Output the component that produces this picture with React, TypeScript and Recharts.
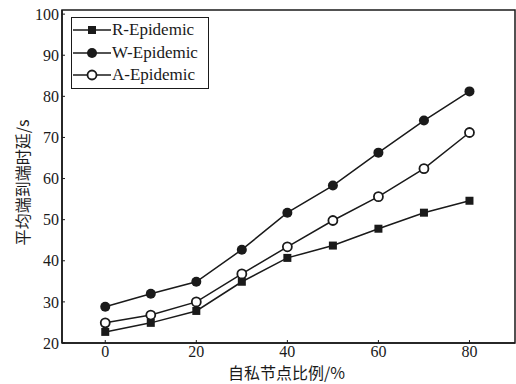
import { LineChart, Line, XAxis, YAxis, Label, ReferenceArea } from 'recharts';

const ratios = [0, 10, 20, 30, 40, 50, 60, 70, 80];
const rEpidemic = [22.7, 24.9, 27.8, 34.9, 40.7, 43.7, 47.8, 51.7, 54.6];
const wEpidemic = [28.8, 32.0, 34.9, 42.7, 51.7, 58.3, 66.3, 74.1, 81.2];
const aEpidemic = [24.9, 26.8, 30.0, 36.8, 43.4, 49.8, 55.6, 62.4, 71.2];
const xTicks = [0, 20, 40, 60, 80];
const yTicks = [20, 30, 40, 50, 60, 70, 80, 90, 100];
const xDomain = [-9.5, 90];
const yDomain = [20, 101];

const series = [
  { key: 'R', name: 'R-Epidemic', marker: 'square' },
  { key: 'W', name: 'W-Epidemic', marker: 'circle' },
  { key: 'A', name: 'A-Epidemic', marker: 'open' },
];

const data = ratios.map((x, i) => ({ x, R: rEpidemic[i], W: wEpidemic[i], A: aEpidemic[i] }));

const FONT = '"Liberation Serif", "DejaVu Serif", serif';
const CJK = '"Noto Sans CJK SC", sans-serif';
const INK = '#1a1a1a';

function Marker({ type, cx, cy }: { type: string; cx: number; cy: number }) {
  if (type === 'square') {
    return <rect x={cx - 4} y={cy - 4} width={8} height={8} fill={INK} />;
  }
  if (type === 'circle') {
    return <circle cx={cx} cy={cy} r={5} fill={INK} />;
  }
  return <circle cx={cx} cy={cy} r={4.5} fill="#fff" stroke={INK} strokeWidth={1.8} />;
}

function makeDot(type: string) {
  return (props: any) => {
    const { cx, cy, index } = props;
    if (cx == null || cy == null) return <g key={`d-${type}-${index}`} />;
    return (
      <g key={`d-${type}-${index}`}>
        <Marker type={type} cx={cx} cy={cy} />
      </g>
    );
  };
}

function LegendBox() {
  return (
    <div
      style={{
        position: 'absolute',
        left: 71,
        top: 17,
        border: `1.5px solid ${INK}`,
        background: '#fff',
        width: 138,
        padding: '1px 0',
        boxSizing: 'border-box',
      }}
    >
      {series.map(s => (
        <div key={s.key} style={{ display: 'flex', alignItems: 'center', height: 22.5 }}>
          <svg width={38} height={14} style={{ marginLeft: 1 }}>
            <line x1={0} y1={7} x2={38} y2={7} stroke={INK} strokeWidth={1.5} />
            <Marker type={s.marker} cx={19} cy={7} />
          </svg>
          <span style={{ fontFamily: FONT, fontSize: 17, color: INK, marginLeft: 1, lineHeight: '20px' }}>
            {s.name}
          </span>
        </div>
      ))}
    </div>
  );
}

export default function App() {
  return (
    <div style={{ position: 'fixed', left: 0, top: 0, width: 516, height: 384, background: '#fff' }}>
      <LineChart width={516} height={384} data={data} margin={{ top: 10, right: 1, bottom: 0, left: 0 }}>
        <XAxis
          dataKey="x"
          type="number"
          domain={xDomain}
          ticks={xTicks}
          height={41}
          tickSize={-3}
          tickMargin={6}
          tickLine={{ stroke: INK }}
          axisLine={{ stroke: INK, strokeWidth: 1.5 }}
          tick={{ fontFamily: FONT, fontSize: 16, fill: INK }}
        >
          <Label
            content={({ viewBox }: any) => (
              <text
                x={viewBox.x + viewBox.width / 2 - 2}
                y={viewBox.y + 36}
                textAnchor="middle"
                fontFamily={CJK}
                fontSize={16}
                fill={INK}
              >
                自私节点比例/%
              </text>
            )}
          />
        </XAxis>
        <YAxis
          type="number"
          domain={yDomain}
          ticks={yTicks}
          width={62}
          allowDataOverflow
          tickSize={-3}
          tickMargin={6}
          tickLine={{ stroke: INK }}
          axisLine={{ stroke: INK, strokeWidth: 1.5 }}
          tick={{ fontFamily: FONT, fontSize: 16, fill: INK }}
        >
          <Label
            content={({ viewBox }: any) => {
              const cx = 22;
              const cy = viewBox.y + viewBox.height / 2 + 6;
              return (
                <text
                  x={cx}
                  y={cy}
                  transform={`rotate(-90 ${cx} ${cy})`}
                  textAnchor="middle"
                  dominantBaseline="central"
                  fontFamily={CJK}
                  fontSize={16}
                  fill={INK}
                >
                  平均端到端时延/s
                </text>
              );
            }}
          />
        </YAxis>
        <ReferenceArea
          x1={xDomain[0]}
          x2={xDomain[1]}
          y1={yDomain[0]}
          y2={yDomain[1]}
          fill="none"
          stroke={INK}
          strokeWidth={1.5}
          ifOverflow="visible"
        />
        {series.map(s => (
          <Line
            key={s.key}
            dataKey={s.key}
            name={s.name}
            stroke={INK}
            strokeWidth={1.5}
            dot={makeDot(s.marker)}
            activeDot={false}
            isAnimationActive={false}
          />
        ))}
      </LineChart>
      <LegendBox />
    </div>
  );
}
